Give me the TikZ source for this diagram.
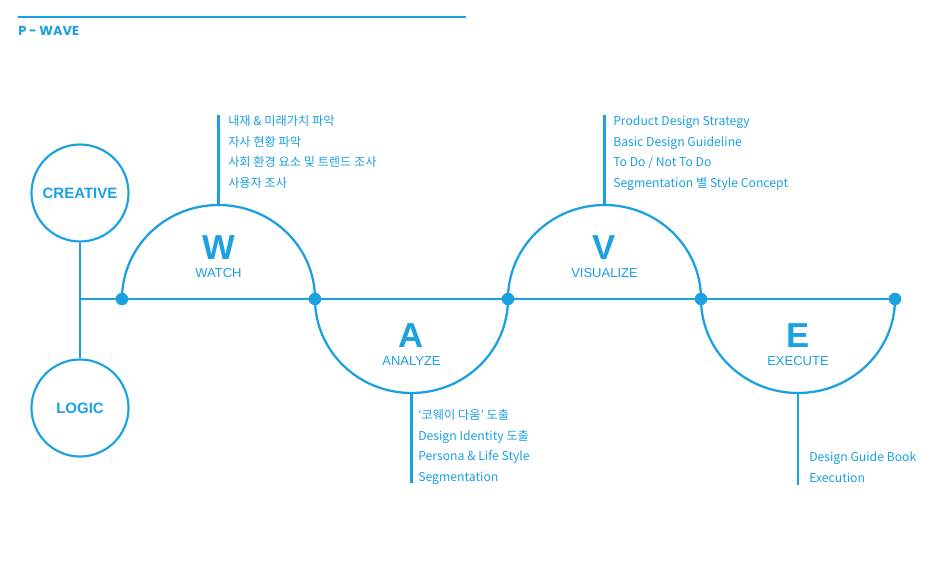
\documentclass[tikz,border=0pt]{standalone}
\usepackage{fontspec}
\setmainfont{Liberation Sans}
\newfontfamily\krfont{Noto Sans CJK KR}
\newfontfamily\titlefont{Poppins}
\usetikzlibrary{positioning}
\definecolor{waveblue}{RGB}{27,161,226}

\begin{document}
\begin{tikzpicture}[x=0.75pt,y=0.75pt,yscale=-1,
    every node/.style={text=waveblue,inner sep=0pt},
    wire/.style={draw=waveblue,line width=1.7pt},
    bubble/.style={circle,draw=waveblue,line width=1.6pt,minimum size=72.75pt,
        font=\bfseries\fontsize{11.25}{11.25}\selectfont},
    knot/.style={circle,fill=waveblue,minimum size=9.4pt},
    letter/.style={font=\bfseries\fontsize{26}{26}\selectfont},
    stage/.style={font=\fontsize{9.75}{9.75}\selectfont},
    item/.style={font=\krfont\fontsize{9.15}{15.5}\selectfont,align=left,anchor=base west}]
    \useasboundingbox[fill=white] (0,0) rectangle (940,576);

    % Title
    \node[font=\titlefont\bfseries\fontsize{9.75}{9.75}\selectfont,anchor=west] (title) at (18,31) {P - WAVE};
    \coordinate (ruleL) at (18,17);
    \coordinate (ruleR) at (466,17);
    \draw[wire,line width=1.5pt] (ruleL) -- (ruleR);

    % Creative / Logic
    \node[bubble] (creative) at (80,193) {CREATIVE};
    \node[bubble] (logic) at (80,408) {LOGIC};
    \draw[wire] (creative) -- (logic);

    % Axis
    \coordinate (hub) at (80,299);
    \coordinate (k0) at (122,299);
    \coordinate (k1) at (315,299);
    \coordinate (k2) at (508,299);
    \coordinate (k3) at (701,299);
    \coordinate (k4) at (895,299);
    \draw[wire] (hub) -- (k4);

    % Wave
    \draw[wire] (k0) arc[start angle=180,end angle=360,x radius=96.5,y radius=94];
    \draw[wire] (k1) arc[start angle=180,end angle=0,x radius=96.5,y radius=94];
    \draw[wire] (k2) arc[start angle=180,end angle=360,x radius=96.5,y radius=94];
    \draw[wire] (k3) arc[start angle=180,end angle=0,x radius=97,y radius=94];

    \node[knot] (d0) at (k0) {};
    \node[knot] (d1) at (k1) {};
    \node[knot] (d2) at (k2) {};
    \node[knot] (d3) at (k3) {};
    \node[knot] (d4) at (k4) {};

    % Stems
    \coordinate (wtop) at (218.5,205);
    \coordinate (wend) at (218.5,115);
    \coordinate (abot) at (411.5,393);
    \coordinate (aend) at (411.5,483);
    \coordinate (vtop) at (604.5,205);
    \coordinate (vend) at (604.5,115);
    \coordinate (ebot) at (798,393);
    \coordinate (eend) at (798,485);
    \draw[wire] (wtop) -- (wend);
    \draw[wire] (abot) -- (aend);
    \draw[wire] (vtop) -- (vend);
    \draw[wire] (ebot) -- (eend);

    % Letters
    \node[letter] (wletter) at (218.5,248) {W};
    \node[stage] (watch) at (218.5,273) {WATCH};
    \node[letter] (aletter) at (411.5,336) {A};
    \node[stage] (analyze) at (411.5,361) {ANALYZE};
    \node[letter] (vletter) at (604.5,248) {V};
    \node[stage] (visualize) at (604.5,273) {VISUALIZE};
    \node[letter] (eletter) at (798,336) {E};
    \node[stage] (execute) at (798,361) {EXECUTE};

    % Lists (anchored on the last line)
    \node[item] (wlist) at (228,187.5) {내재 \& 미래가치 파악\\자사 현황 파악\\사회 환경 요소 및 트렌드 조사\\사용자 조사};
    \node[item] (alist) at (418,481.5) {‘코웨이 다움’ 도출\\Design Identity 도출\\Persona \& Life Style\\Segmentation};
    \node[item] (vlist) at (613,187.5) {Product Design Strategy\\Basic Design Guideline\\To Do / Not To Do\\Segmentation 별 Style Concept};
    \node[item] (elist) at (809,482.5) {Design Guide Book\\Execution};
\end{tikzpicture}
\end{document}
